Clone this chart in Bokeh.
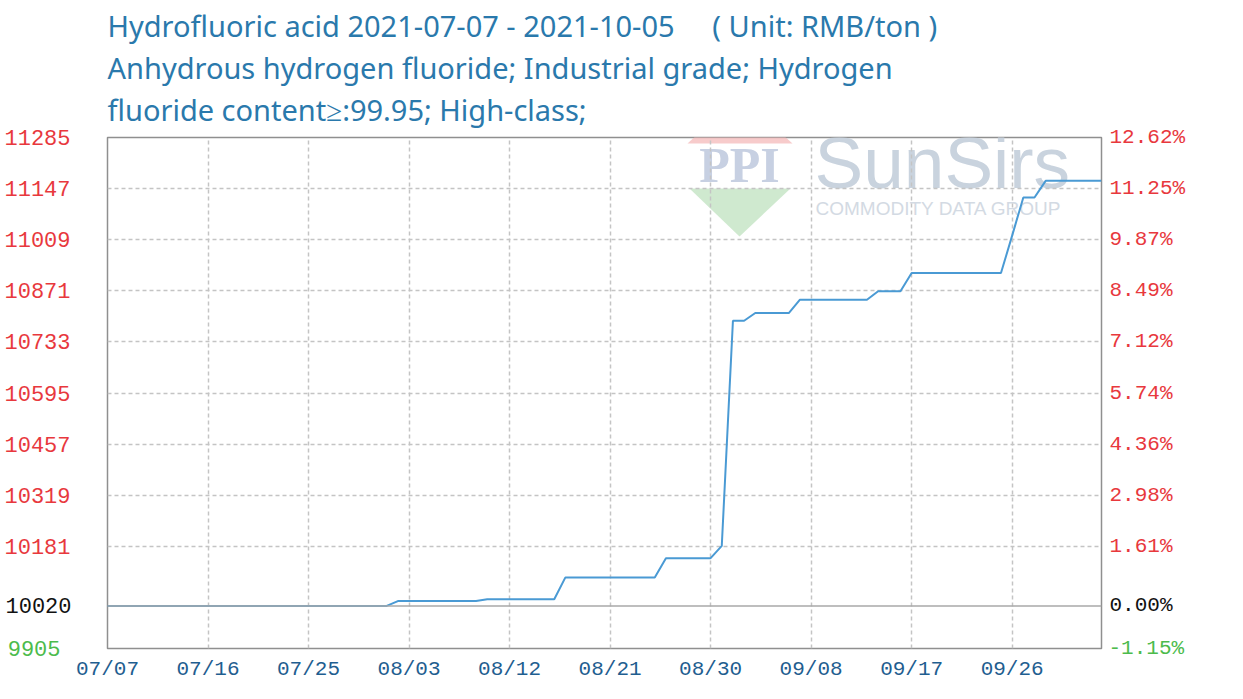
from bokeh.plotting import figure
from bokeh.models import (FixedTicker, LinearAxis, Range1d, Span, Label, Title,
                          PolyAnnotation, DatetimeTickFormatter)
from bokeh.embed import file_html
from bokeh.resources import INLINE
import pandas as pd

# ---------------- data ----------------
start_date = "2021-07-07"
prices = [
    10020, 10020, 10020, 10020, 10020, 10020, 10020, 10020, 10020, 10020,
    10020, 10020, 10020, 10020, 10020, 10020, 10020, 10020, 10020, 10020,
    10020, 10020, 10020, 10020, 10020, 10020, 10033, 10033, 10033, 10033,
    10033, 10033, 10033, 10033, 10038, 10038, 10038, 10038, 10038, 10038,
    10038, 10097, 10097, 10097, 10097, 10097, 10097, 10097, 10097, 10097,
    10149, 10149, 10149, 10149, 10149, 10182, 10790, 10790, 10811, 10811,
    10811, 10811, 10847, 10847, 10847, 10847, 10847, 10847, 10847, 10870,
    10870, 10870, 10919, 10919, 10919, 10919, 10919, 10919, 10919, 10919,
    10919, 11020, 11123, 11123, 11168, 11168, 11168, 11168, 11168, 11168,
]
x_tick_dates = ["2021-07-07", "2021-07-16", "2021-07-25", "2021-08-03", "2021-08-12",
                "2021-08-21", "2021-08-30", "2021-09-08", "2021-09-17", "2021-09-26"]
y_ticks = [9905, 10020, 10181, 10319, 10457, 10595, 10733, 10871, 11009, 11147, 11285]
base_price = 10020
pct_labels = ["-1.15%", "0.00%", "1.61%", "2.98%", "4.36%", "5.74%", "7.12%",
              "8.49%", "9.87%", "11.25%", "12.62%"]

NB = "\u00a0"
title_lines = [
    "Hydrofluoric acid 2021-07-07 - 2021-10-05" + NB * 5 + "( Unit: RMB/ton )",
    "Anhydrous hydrogen fluoride; Industrial grade; Hydrogen",
    "fluoride content\u2265:99.95; High-class;",
]

dates = pd.date_range(start_date, periods=len(prices), freq="D")
tick_ms = [pd.Timestamp(d).value // 10**6 for d in x_tick_dates]
x_start = pd.Timestamp(dates[0]).value // 10**6
x_end = pd.Timestamp(dates[-1]).value // 10**6

# ---------------- figure ----------------
MONO = "Liberation Mono"
RED = "#e8383d"
GREEN = "#4cbb4c"
BLUE_T = "#2a79ac"
BLUE_X = "#1f5e90"

p = figure(width=1227, height=683, x_axis_type="datetime",
           x_range=Range1d(x_start, x_end), y_range=Range1d(y_ticks[0], y_ticks[-1]),
           output_backend="svg", toolbar_location=None,
           min_border_left=107, min_border_right=126, min_border_top=137, min_border_bottom=34)
p.background_fill_color = "white"
p.border_fill_color = "white"
p.outline_line_color = "#8f8f8f"
p.outline_line_width = 1.5


def style_axis(ax, color, standoff, size="21px"):
    ax.major_label_text_font = MONO
    ax.major_label_text_font_size = size
    ax.major_label_text_color = color
    ax.major_label_standoff = standoff
    ax.axis_line_color = None
    ax.major_tick_line_color = None
    ax.minor_tick_line_color = None
    ax.major_tick_out = 0
    ax.major_tick_in = 0
    ax.minor_tick_out = 0
    ax.minor_tick_in = 0


# x axis
xa = p.xaxis[0]
xa.ticker = FixedTicker(ticks=tick_ms)
xa.formatter = DatetimeTickFormatter(days="%m/%d", months="%m/%d")
style_axis(xa, BLUE_X, 9)

# left y axis: red labels (inner panel)
ya = p.yaxis[0]
ya.ticker = FixedTicker(ticks=y_ticks[2:])
style_axis(ya, RED, 37, "22px")

# left: base (black) and minimum (green) labels, pulled back over the red axis panel
ax_base_l = LinearAxis(ticker=FixedTicker(ticks=[y_ticks[1]]))
style_axis(ax_base_l, "#111111", -70, "22px")
p.add_layout(ax_base_l, "left")
ax_min_l = LinearAxis(ticker=FixedTicker(ticks=[y_ticks[0]]))
style_axis(ax_min_l, GREEN, -59, "22px")
p.add_layout(ax_min_l, "left")

# right y axis: percent vs base price
ra = LinearAxis(ticker=FixedTicker(ticks=y_ticks[2:]),
                major_label_overrides={t: lab for t, lab in zip(y_ticks[2:], pct_labels[2:])})
style_axis(ra, RED, 8)
p.add_layout(ra, "right")
ax_min_r = LinearAxis(ticker=FixedTicker(ticks=[y_ticks[0]]),
                      major_label_overrides={y_ticks[0]: pct_labels[0]})
style_axis(ax_min_r, GREEN, -80)
p.add_layout(ax_min_r, "right")
ax_base_r = LinearAxis(ticker=FixedTicker(ticks=[y_ticks[1]]),
                       major_label_overrides={y_ticks[1]: pct_labels[1]})
style_axis(ax_base_r, "#111111", -79)
p.add_layout(ax_base_r, "right")

# grids
p.xgrid.ticker = FixedTicker(ticks=tick_ms[1:])
p.ygrid.ticker = FixedTicker(ticks=y_ticks[2:-1])
for g in (p.xgrid[0], p.ygrid[0]):
    g.grid_line_color = "#c4c4c4"
    g.grid_line_dash = "4 3"
    g.grid_line_width = 1.5
p.add_layout(Span(location=base_price, dimension="width", line_color="#a8a8a8", line_width=1.5))

# watermark (inside the plot frame)
wm_pink = PolyAnnotation(xs=[580, 632, 685], ys=[505, 553, 505], xs_units="screen", ys_units="screen",
                         fill_color="#f4b9b9", fill_alpha=0.75, line_color=None, level="image")
wm_green = PolyAnnotation(xs=[582, 632, 683], ys=[460, 412, 460], xs_units="screen", ys_units="screen",
                          fill_color="#bfe2bf", fill_alpha=0.75, line_color=None, level="image")
p.add_layout(wm_pink)
p.add_layout(wm_green)
p.add_layout(Label(x=632, y=484, x_units="screen", y_units="screen", text="PPI",
                   text_font="Liberation Serif", text_font_style="bold", text_font_size="50px",
                   text_color="#c7d0e2", text_align="center", text_baseline="middle", level="image"))
p.add_layout(Label(x=707, y=486, x_units="screen", y_units="screen", text="SunSirs",
                   text_font="Liberation Sans", text_font_size="73px",
                   text_color="#c9d3de", text_align="left", text_baseline="middle", level="image"))
p.add_layout(Label(x=708, y=440, x_units="screen", y_units="screen", text="COMMODITY DATA GROUP",
                   text_font="Liberation Sans", text_font_size="19px",
                   text_color="#d3dae3", text_align="left", text_baseline="middle", level="image"))

# price line
p.line(dates, prices, line_color="#4a9ad4", line_width=2)

# titles (added nearest-first); a tiny blank title gives the gap above the frame
p.add_layout(Title(text=NB, text_font_size="6px", standoff=0), "above")
for t in reversed(title_lines):
    p.add_layout(Title(text=t, align="left", text_font="Noto Sans", text_font_size="29px",
                       text_font_style="normal", text_color=BLUE_T, standoff=1), "above")

open("out.html", "w").write(file_html(p, INLINE))
